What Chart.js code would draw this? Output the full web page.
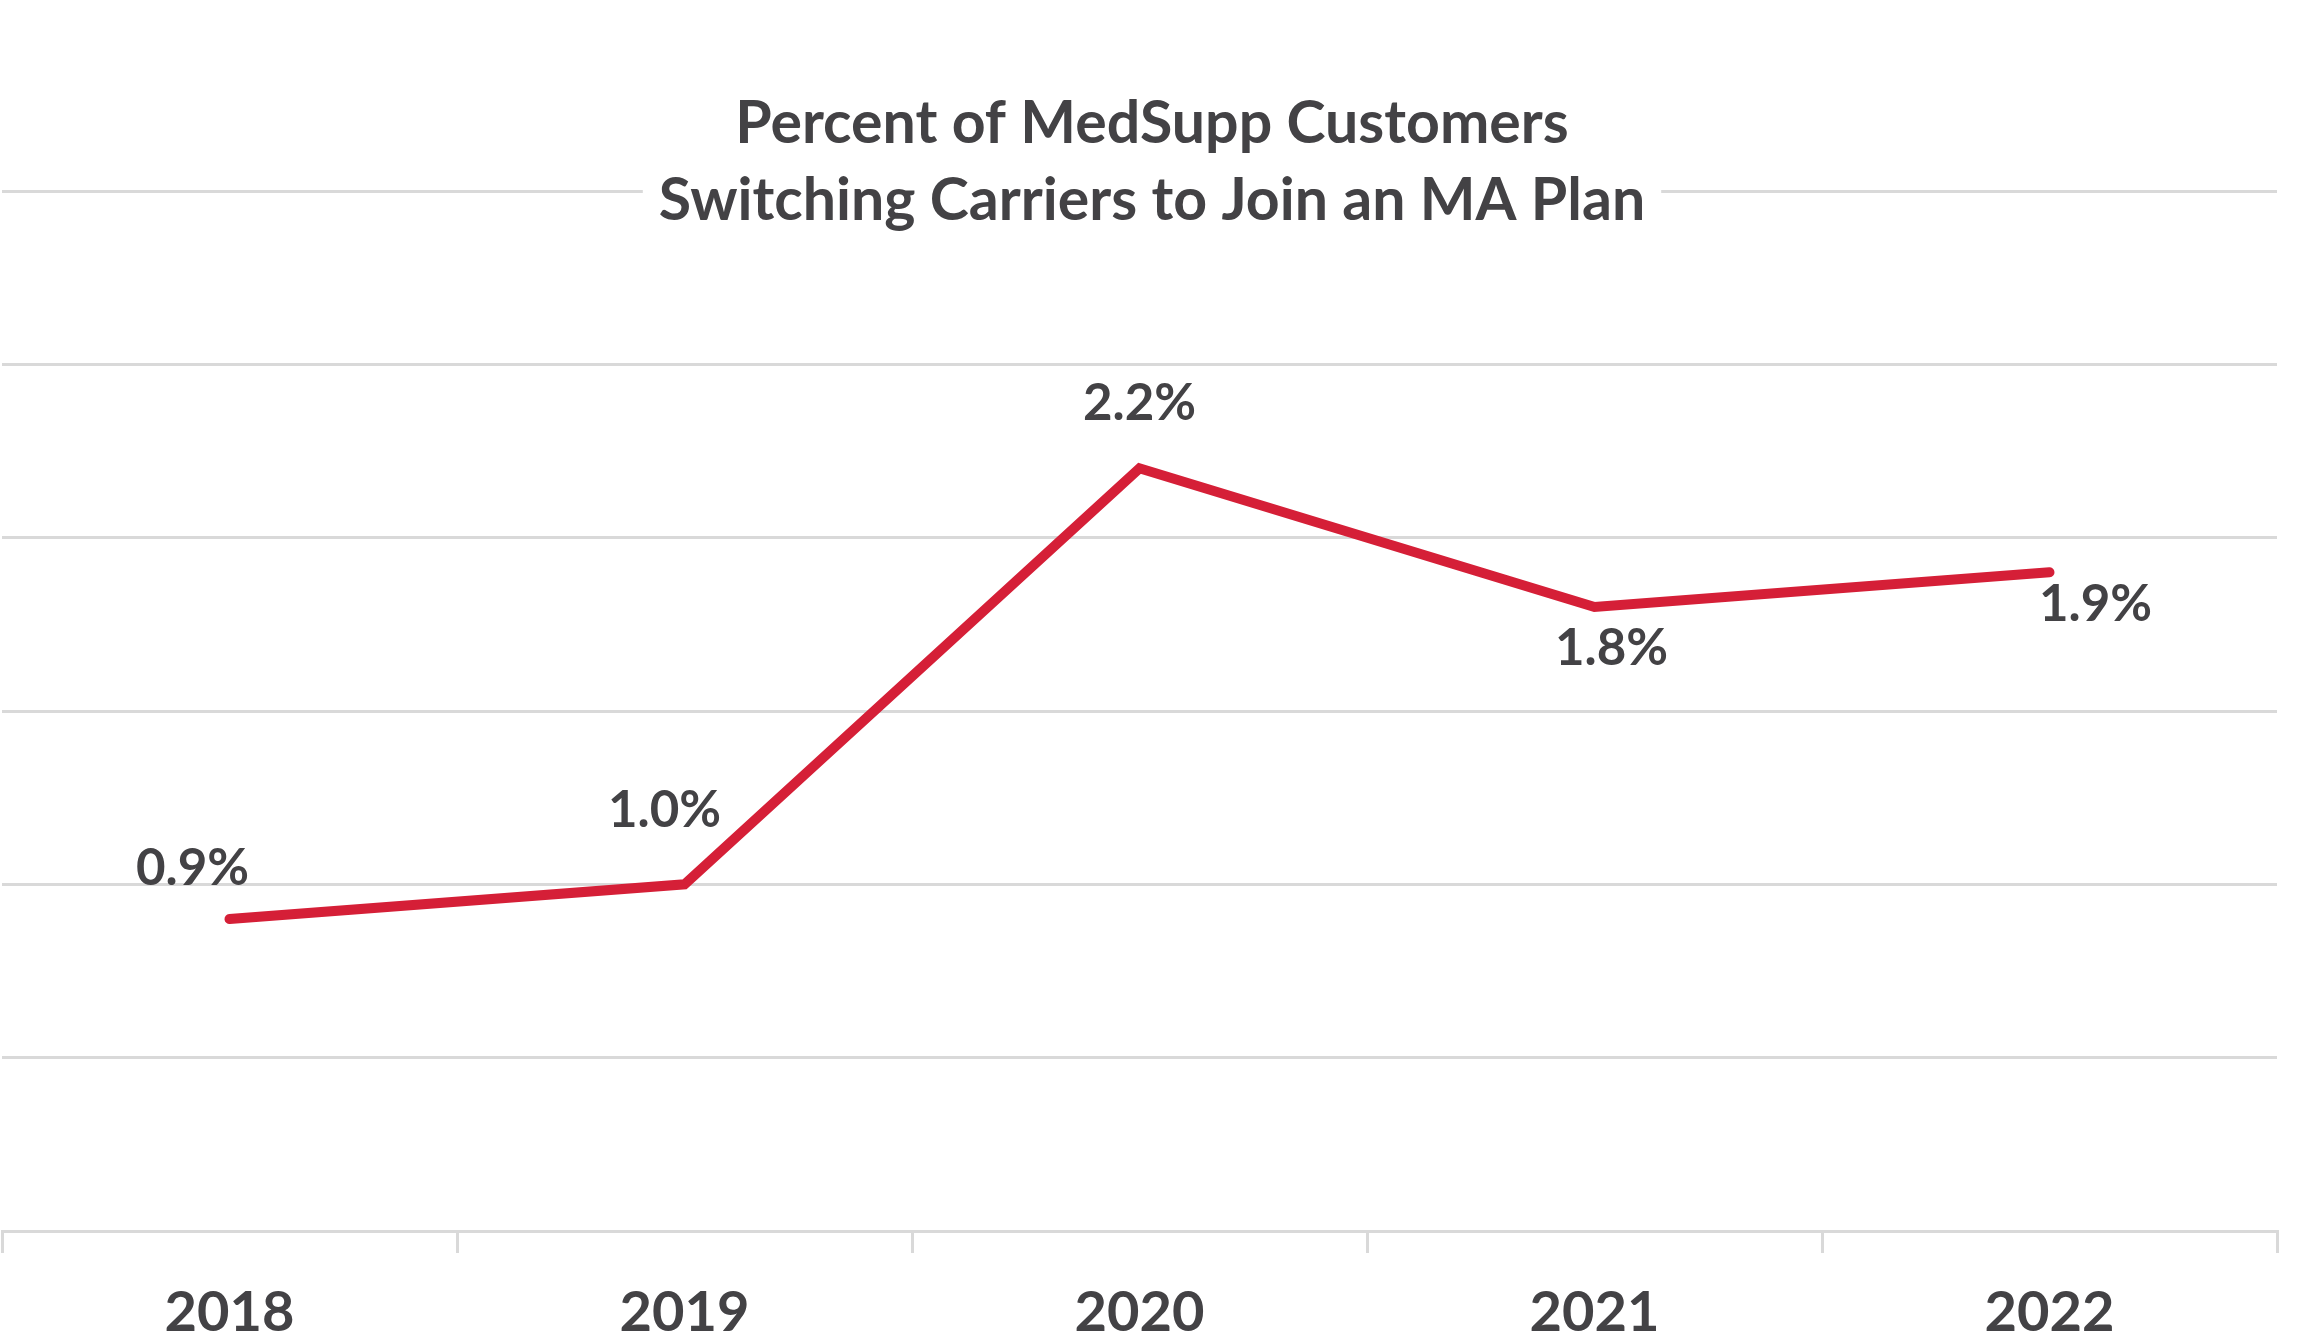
<!DOCTYPE html>
<html>
<head>
<meta charset="utf-8">
<script src="https://cdn.jsdelivr.net/npm/chart.js@4.4.0/dist/chart.umd.min.js"></script>
<style>
  html, body { margin: 0; padding: 0; background: #ffffff; }
  #wrap { width: 2306px; height: 1336px; position: relative; }
</style>
</head>
<body>
<div id="wrap"><canvas id="c" width="2306" height="1336"></canvas></div>
<script>
const categories = ['2018', '2019', '2020', '2021', '2022'];
const switchingPct = [0.9, 1.0, 2.2, 1.8, 1.9];
const dataLabels = ['0.9%', '1.0%', '2.2%', '1.8%', '1.9%'];
const titleLines = ['Percent of MedSupp Customers', 'Switching Carriers to Join an MA Plan'];

const TEXT = '#434245';
const GRID = '#d9d9d9';
const RED = '#D51F37';
const FONT = 'Lato, "Open Sans", sans-serif';

// label placement relative to point (pixels)
const labelShift = [[-37, -50], [-20, -74], [0, -65], [17, 42], [46, 32]];

const labelPlugin = {
  id: 'pointLabels',
  afterDatasetsDraw(chart) {
    const ctx = chart.ctx;
    const meta = chart.getDatasetMeta(0);
    ctx.save();
    ctx.font = 'bold 51px ' + FONT;
    ctx.fillStyle = TEXT;
    ctx.textAlign = 'center';
    ctx.textBaseline = 'middle';
    meta.data.forEach((pt, i) => {
      const s = labelShift[i];
      ctx.fillText(dataLabels[i], pt.x + s[0], pt.y + s[1]);
    });
    ctx.restore();
  }
};

const titlePlugin = {
  id: 'overTitle',
  afterDraw(chart) {
    const ctx = chart.ctx;
    ctx.save();
    ctx.font = 'bold 59px ' + FONT;
    ctx.textAlign = 'center';
    ctx.textBaseline = 'alphabetic';
    const cx = 1152;
    const baselines = [143, 220];
    titleLines.forEach((t, i) => {
      const w = ctx.measureText(t).width;
      ctx.fillStyle = '#ffffff';
      ctx.fillRect(cx - w / 2 - 16, baselines[i] - 52, w + 32, 68);
    });
    ctx.fillStyle = TEXT;
    titleLines.forEach((t, i) => ctx.fillText(t, cx, baselines[i]));
    ctx.restore();
  }
};

new Chart(document.getElementById('c'), {
  type: 'line',
  data: {
    labels: categories,
    datasets: [{
      data: switchingPct,
      borderColor: RED,
      borderWidth: 10,
      borderCapStyle: 'round',
      borderJoinStyle: 'miter',
      pointRadius: 0,
      tension: 0,
      fill: false
    }]
  },
  options: {
    responsive: false,
    animation: false,
    devicePixelRatio: 1,
    layout: { padding: { left: 2, right: 29, top: 191, bottom: 0 } },
    plugins: { legend: { display: false }, title: { display: false }, tooltip: { enabled: false } },
    scales: {
      x: {
        type: 'category',
        offset: true,
        grid: { offset: true, drawOnChartArea: false, color: GRID, lineWidth: 3, tickLength: 22 },
        border: { display: true, color: GRID, width: 3 },
        ticks: { color: TEXT, font: { family: FONT, size: 56, weight: 'bold' }, padding: 26 },
        afterFit(scale) { scale.height = 105; }
      },
      y: {
        min: 0, max: 3,
        ticks: { display: false, stepSize: 0.5 },
        grid: { color: GRID, lineWidth: 3, drawTicks: false },
        border: { display: false },
        afterFit(scale) { scale.width = 0; }
      }
    }
  },
  plugins: [labelPlugin, titlePlugin]
});
</script>
</body>
</html>
